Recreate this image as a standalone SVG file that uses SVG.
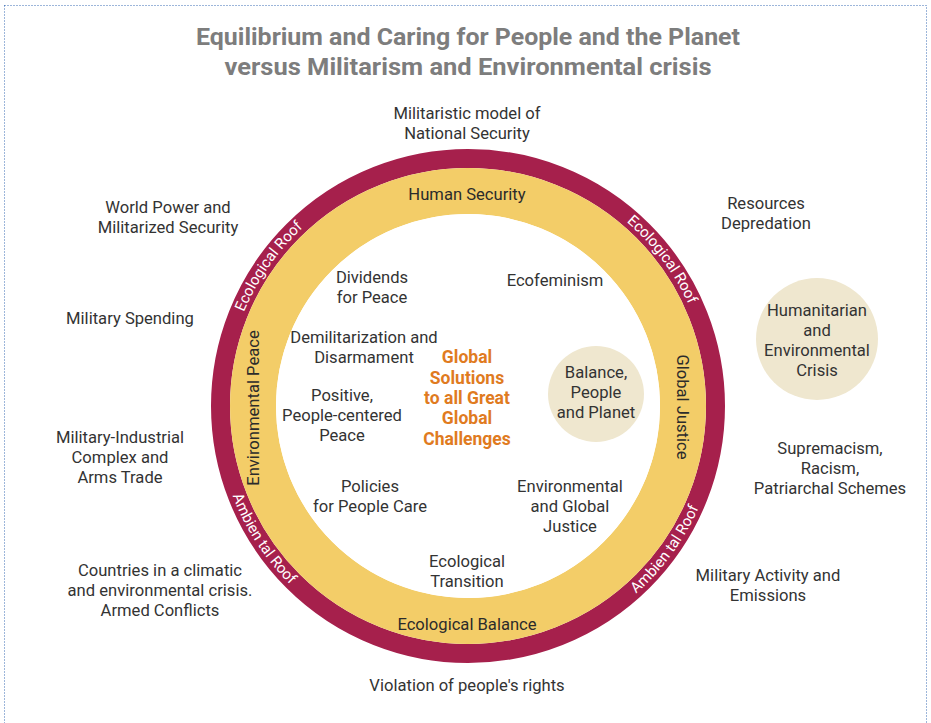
<svg xmlns="http://www.w3.org/2000/svg" width="931" height="723" viewBox="0 0 931 723">
<style>
.t{font-family:Roboto,"Liberation Sans",sans-serif;font-size:16.6px;fill:#333;text-anchor:middle}
.title{font-family:Roboto,"Liberation Sans",sans-serif;font-size:24px;font-weight:bold;fill:#7d7d7d;text-anchor:middle}
.or{font-family:Roboto,"Liberation Sans",sans-serif;font-size:17.5px;font-weight:bold;fill:#e07b1f;text-anchor:middle}
.ring{font-family:Roboto,"Liberation Sans",sans-serif;font-size:15px;fill:#fff;text-anchor:middle}
.band{font-family:Roboto,"Liberation Sans",sans-serif;font-size:16.6px;fill:#2b2b2b;text-anchor:middle}
</style>
<defs>
<path id="pUL" d="M228.7,448.2 A243,243 0 0 1 425.8,166.7" fill="none"/>
<path id="pUR" d="M501.8,165.4 A243,243 0 0 1 708.6,439.8" fill="none"/>
<path id="pLL" d="M221.5,353.6 A252,252 0 0 0 415.6,652.5" fill="none"/>
<path id="pLR" d="M507.4,654.9 A252,252 0 0 0 716.9,366.6" fill="none"/>
</defs>
<rect width="931" height="723" fill="#fff"/>
<rect x="4.5" y="5.5" width="922" height="730" fill="none" stroke="#3a6cb4" stroke-width="1" stroke-dasharray="1,2"/>
<g id="title">
<text class="title" x="468" y="45" textLength="544" lengthAdjust="spacingAndGlyphs">Equilibrium and Caring for People and the Planet</text>
<text class="title" x="468" y="75" textLength="487" lengthAdjust="spacingAndGlyphs">versus Militarism and Environmental crisis</text>
</g>
<g id="rings">
<circle cx="468" cy="406" r="247.5" fill="none" stroke="#a6204c" stroke-width="19"/>
<circle cx="468" cy="406" r="215" fill="none" stroke="#f3cd68" stroke-width="46"/>
<circle cx="468" cy="406" r="192" fill="#fff"/>
</g>
<g id="ring-labels">
<text class="ring"><textPath href="#pUL" startOffset="50%">Ecological Roof</textPath></text>
<text class="ring"><textPath href="#pUR" startOffset="50%">Ecological Roof</textPath></text>
<text class="ring"><textPath href="#pLL" startOffset="50%">Ambien tal Roof</textPath></text>
<text class="ring"><textPath href="#pLR" startOffset="50%">Ambien tal Roof</textPath></text>
</g>
<g id="band-labels">
<text class="band" x="467" y="200">Human Security</text>
<text class="band" x="467" y="630">Ecological Balance</text>
<text class="band" transform="translate(259,408) rotate(-90)">Environmental Peace</text>
<text class="band" transform="translate(677,407) rotate(90)">Global Justice</text>
</g>
<g id="outer">
<text class="t" x="467" y="119">Militaristic model of</text>
<text class="t" x="467" y="139">National Security</text>
<text class="t" x="168" y="213">World Power and</text>
<text class="t" x="168" y="233">Militarized Security</text>
<text class="t" x="766" y="209">Resources</text>
<text class="t" x="766" y="229">Depredation</text>
<text class="t" x="130" y="324">Military Spending</text>
<text class="t" x="120" y="443">Military-Industrial</text>
<text class="t" x="120" y="463">Complex and</text>
<text class="t" x="120" y="483">Arms Trade</text>
<text class="t" x="830" y="454">Supremacism,</text>
<text class="t" x="830" y="474">Racism,</text>
<text class="t" x="830" y="494">Patriarchal Schemes</text>
<text class="t" x="160" y="576">Countries in a climatic</text>
<text class="t" x="160" y="596">and environmental crisis.</text>
<text class="t" x="160" y="616">Armed Conflicts</text>
<text class="t" x="768" y="581">Military Activity and</text>
<text class="t" x="768" y="601">Emissions</text>
<text class="t" x="467" y="691">Violation of people's rights</text>
</g>
<g id="humanitarian">
<circle cx="817" cy="339" r="61" fill="#efe7cf"/>
<text class="t" x="817" y="316">Humanitarian</text>
<text class="t" x="817" y="336">and</text>
<text class="t" x="817" y="356">Environmental</text>
<text class="t" x="817" y="376">Crisis</text>
</g>
<g id="balance">
<circle cx="596" cy="394" r="48" fill="#efe7cf"/>
<text class="t" x="596" y="378">Balance,</text>
<text class="t" x="596" y="398">People</text>
<text class="t" x="596" y="418">and Planet</text>
</g>
<g id="inner">
<text class="t" x="372" y="283">Dividends</text>
<text class="t" x="372" y="303">for Peace</text>
<text class="t" x="555" y="286">Ecofeminism</text>
<text class="t" x="364" y="343">Demilitarization and</text>
<text class="t" x="364" y="363">Disarmament</text>
<text class="t" x="342" y="401">Positive,</text>
<text class="t" x="342" y="421">People-centered</text>
<text class="t" x="342" y="441">Peace</text>
<text class="t" x="370" y="492">Policies</text>
<text class="t" x="370" y="512">for People Care</text>
<text class="t" x="570" y="492">Environmental</text>
<text class="t" x="570" y="512">and Global</text>
<text class="t" x="570" y="532">Justice</text>
<text class="t" x="467" y="567">Ecological</text>
<text class="t" x="467" y="587">Transition</text>
</g>
<g id="center">
<text class="or" x="467" y="363">Global</text>
<text class="or" x="467" y="384">Solutions</text>
<text class="or" x="467" y="404">to all Great</text>
<text class="or" x="467" y="424">Global</text>
<text class="or" x="467" y="445">Challenges</text>
</g>
</svg>
